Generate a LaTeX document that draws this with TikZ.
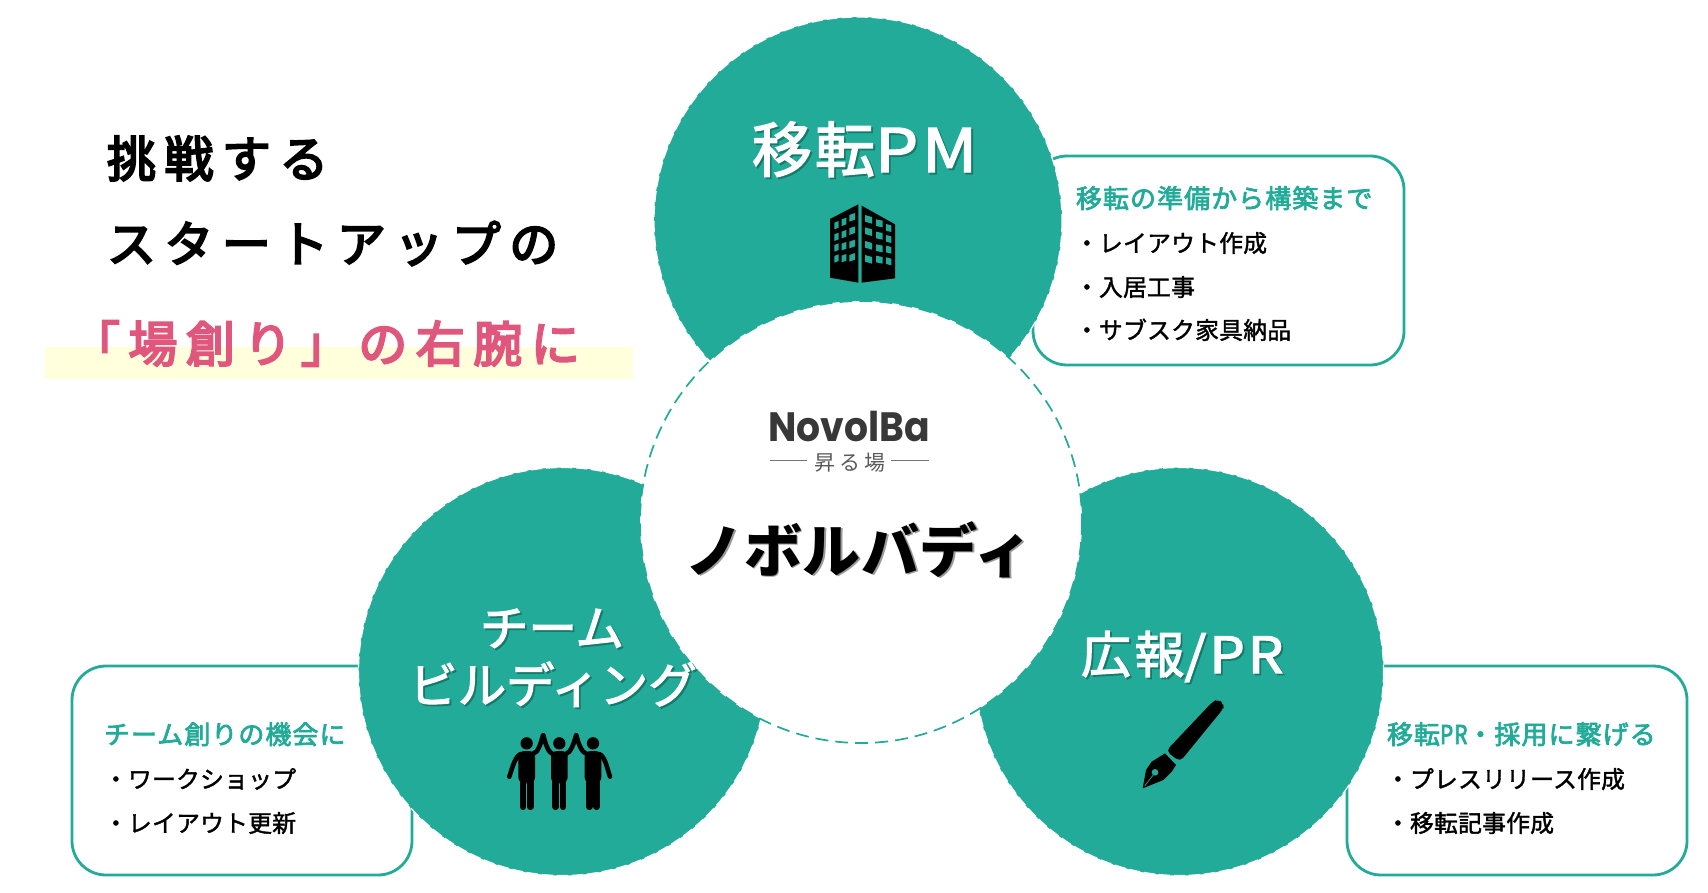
\documentclass[tikz,border=0pt]{standalone}
\usepackage{fontspec}
\setmainfont{Noto Sans CJK JP}
\newfontfamily\jpm[FakeBold=1.6]{Noto Sans CJK JP}
\newfontfamily\jpa[FakeBold=2.4]{Noto Sans CJK JP}
\newfontfamily\jph[FakeBold=2.8]{Noto Sans CJK JP}
\newfontfamily\jpt[FakeBold=4.2]{Noto Sans CJK JP}
\newfontfamily\logofont[FakeStretch=0.92]{Poppins}
\definecolor{teal}{HTML}{22AB98}
\definecolor{pink}{HTML}{E0567C}
\definecolor{hilite}{HTML}{FFFFDC}
\definecolor{tealshadow}{HTML}{157A6B}
\definecolor{grayshadow}{HTML}{9A9A9A}
\newcommand{\sz}[2]{\fontsize{#1}{#1}\selectfont\addfontfeature{LetterSpace=#2}}
\newcommand{\shtext}[2]{\makebox[0pt][l]{\raisebox{-1.8pt}{\hspace{1.8pt}\textcolor{#1}{#2}}}#2}
\tikzset{
  x=1pt,y=-1pt,
  lab/.style={inner sep=0pt,outer sep=0pt},
  boxline/.style={draw=teal,line width=2.8pt,fill=white,rounded corners=34pt},
  petal/.style={fill=teal,draw=white,line width=1.2pt,dash pattern=on 11pt off 4pt},
  hub/.style={fill=white,draw=teal,line width=1.7pt,dash pattern=on 13pt off 7pt},
  head3/.style={lab,anchor=base west,text=black,font={\jpt\sz{49}{17.3}}},
  bigw/.style={lab,text=white,font=\jpa},
  boxhead/.style={lab,anchor=base west,text=teal,font={\jph\sz{26}{4}}},
  boxitem/.style={lab,anchor=base west,text=black,font={\jpm\sz{23.8}{1}}},
  limb/.style={line width=4.6pt,line cap=round,black},
  leg/.style={line width=6.8pt,line cap=round,black},
}
\begin{document}
\begin{tikzpicture}
\useasboundingbox (0,0) rectangle (1708,892);
\fill[white] (0,0) rectangle (1708,892);
% highlight
\fill[hilite] (45,347) rectangle (633,379);
% headline
\node[head3] (h1) at (107,177) {挑戦する};
\node[head3] (h2) at (107,262) {スタートアップの};
\node[head3,text=pink] (h3) at (71,362) {「場創り」の右腕に};
% side boxes
\draw[boxline] (1033,156) rectangle (1404,365);
\draw[boxline] (72,666) rectangle (412,875);
\draw[boxline] (1347,666) rectangle (1687,875);
% circles
\draw[petal] (858,221) circle (204);
\draw[petal] (562.5,671.5) circle (204);
\draw[petal] (1179.5,671.5) circle (204);
\draw[hub] (861,522) circle (221);
% top box text
\node[boxhead] (t0) at (1076,208) {移転の準備から構築まで};
\node[boxitem] (t1) at (1075,252) {・レイアウト作成};
\node[boxitem] (t2) at (1075,296) {・入居工事};
\node[boxitem] (t3) at (1075,339) {・サブスク家具納品};
% left box text
\node[boxhead] (l0) at (104,744) {チーム創りの機会に};
\node[boxitem] (l1) at (104,788) {・ワークショップ};
\node[boxitem] (l2) at (104,832) {・レイアウト更新};
% right box text
\node[boxhead] (r0) at (1387,744) {移転{\addfontfeature{FakeStretch=0.8}PR}・採用に繋げる};
\node[boxitem] (r1) at (1386,788) {・プレスリリース作成};
\node[boxitem] (r2) at (1386,832) {・移転記事作成};
% big labels
\node[bigw,anchor=base west] (big1) at (752,172) {\sz{60}{5}\shtext{tealshadow}{移転{\addfontfeature{FakeStretch=1.14,LetterSpace=6}PM}}};
\node[bigw,anchor=base west] (big2) at (1081,673) {\sz{50}{7}\shtext{tealshadow}{広報{\addfontfeature{FakeStretch=1.12,LetterSpace=6}/PR}}};
\node[bigw,anchor=base] (big3) at (552,646) {\sz{48.5}{0}\shtext{tealshadow}{チーム}};
\node[bigw,anchor=base] (big4) at (553,703) {\sz{48.5}{0}\shtext{tealshadow}{ビルディング}};
\node[lab,anchor=base,text=black,font=\bfseries] (hubname) at (859,572) {\sz{58}{1}\shtext{grayshadow}{ノボルバディ}};
% logo
\node[lab,anchor=base,text=black!78,font={\logofont\bfseries\fontsize{41}{41}\selectfont}] (logo) at (849,441) {NovolBa};
\node[lab,anchor=base,text=black!65,font={\sz{21}{17}}] (logosub) at (850,470) {昇る場};
\draw[black!55,line width=1pt] (770,460) -- (807,460) (891,460) -- (929,460);
% building icon
\begin{scope}[shift={(820,195)},x=.3333pt,y=-.3333pt]
\fill[black] (30,72) -- (115,28) -- (115,263) -- (30,248) -- cycle;
\fill[black] (125,32) -- (225,88) -- (225,250) -- (125,263) -- cycle;
\foreach \xa/\xb/\ya/\yb/\yc/\yd/\d in {
  43/56/83/118/150/183/-5, 65/79/73/110/146/182/-5, 88/105/60/100/140/180/-6,
  135/156/60/97/138/180/6, 168/188/73/110/148/182/4, 198/214/87/120/152/187/4}{
  \foreach \yy in {\ya,\yb,\yc,\yd}{
    \fill[teal] (\xa,\yy) -- (\xb,\yy+\d) -- (\xb,\yy+\d+20) -- (\xa,\yy+20) -- cycle;
  }
}
\end{scope}
% people icon
\begin{scope}[shift={(500,720)},x=.3333pt,y=-.3333pt]
\foreach \c in {80,178,279}{
  \fill[black] (\c,70) circle (18.5);
  \fill[black,rounded corners=6pt] (\c-25,93) rectangle (\c+25,190);
  \draw[leg] (\c-11,180) -- (\c-11,260);
  \draw[leg] (\c+11,180) -- (\c+11,260);
}
\draw[limb] (62,102) .. controls (45,110) and (38,140) .. (28,170);
\draw[limb] (98,102) .. controls (115,98) and (122,70) .. (129,46);
\draw[limb] (158,102) .. controls (145,98) and (136,70) .. (130,46);
\draw[limb] (198,102) .. controls (212,98) and (222,70) .. (228,46);
\draw[limb] (260,102) .. controls (245,98) and (235,70) .. (229,46);
\draw[limb] (298,102) .. controls (315,110) and (320,140) .. (330,170);
\end{scope}
% pen icon
\begin{scope}[shift={(1130,690)},x=.3333pt,y=-.3333pt]
\fill[black,rounded corners=5pt] (248,35) -- (265,27) -- (282,42) -- (280,56) -- (150,215) -- (108,183) -- cycle;
\fill[black] (105,190) -- (138,225) -- (125,245) -- (100,270) -- (38,295) -- (48,240) -- (65,215) -- cycle;
\fill[teal] (75,247) circle (10);
\draw[teal,line width=.7pt] (72,252) -- (44,288);
\end{scope}
\end{tikzpicture}
\end{document}
